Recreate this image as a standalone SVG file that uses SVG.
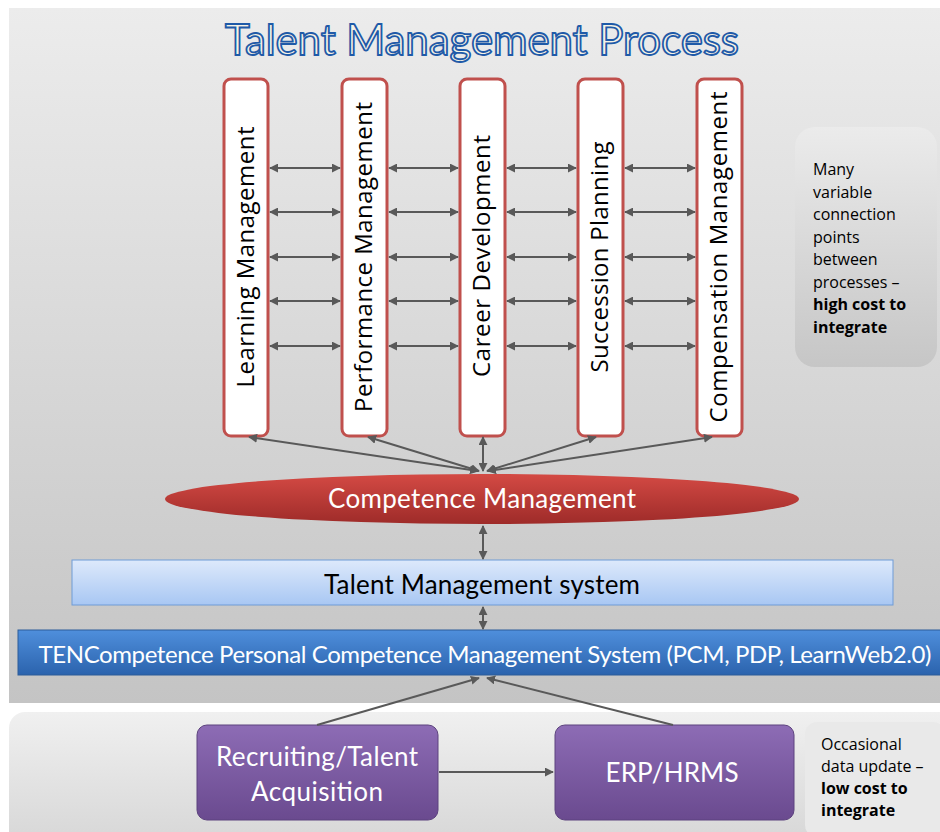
<svg xmlns="http://www.w3.org/2000/svg" width="940" height="832" viewBox="0 0 940 832">
<defs>
<linearGradient id="bgTop" x1="0" y1="0" x2="0" y2="1"><stop offset="0" stop-color="#ececec"/><stop offset="1" stop-color="#c4c4c4"/></linearGradient>
<linearGradient id="bgBot" x1="0" y1="0" x2="0" y2="1"><stop offset="0" stop-color="#f0f0f0"/><stop offset="1" stop-color="#d6d6d6"/></linearGradient>
<linearGradient id="note" x1="0" y1="0" x2="0" y2="1"><stop offset="0" stop-color="#ebebeb"/><stop offset="1" stop-color="#c6c6c6"/></linearGradient>
<linearGradient id="ell" x1="0" y1="0" x2="0" y2="1"><stop offset="0" stop-color="#d44a44"/><stop offset="1" stop-color="#9e2b29"/></linearGradient>
<linearGradient id="tms" x1="0" y1="0" x2="0" y2="1"><stop offset="0" stop-color="#dde9fb"/><stop offset="1" stop-color="#a8c7f3"/></linearGradient>
<linearGradient id="ten" x1="0" y1="0" x2="0" y2="1"><stop offset="0" stop-color="#4f8fdc"/><stop offset="1" stop-color="#2b63ad"/></linearGradient>
<linearGradient id="pur" x1="0" y1="0" x2="0" y2="1"><stop offset="0" stop-color="#8d6cb5"/><stop offset="1" stop-color="#6a4a8f"/></linearGradient>
<marker id="ah" viewBox="0 0 10 10" refX="9" refY="5" markerWidth="4.5" markerHeight="4.5" orient="auto-start-reverse" markerUnits="strokeWidth"><path d="M0,0 L10,5 L0,10 z" fill="#595959"/></marker>
<style>
.proc rect{fill:#ffffff;stroke:#c0504d;stroke-width:3}
.vlab{font-family:"Open Sans",sans-serif;font-size:24px;fill:#000}
.con line{stroke:#595959;stroke-width:2}
.dbl{marker-start:url(#ah);marker-end:url(#ah)}
.one{marker-end:url(#ah)}
.cal{font-family:Lato,"Open Sans",sans-serif}
.note{font-family:"Open Sans",sans-serif;font-size:16px;fill:#000}
</style>
</defs>
<rect x="0" y="0" width="940" height="832" fill="#ffffff"/>
<rect x="9" y="8" width="940" height="695" fill="url(#bgTop)"/>
<rect x="9" y="712" width="950" height="135" rx="16" fill="url(#bgBot)"/>

<text x="482" y="55" text-anchor="middle" class="cal" font-size="42" fill="#f5f3e6" stroke="#1f5aa8" stroke-width="1.8" textLength="514">Talent Management Process</text>

<g id="learning" class="proc"><rect x="224" y="79" width="44" height="357" rx="7"/><text class="vlab" transform="translate(254,257) rotate(-90)" text-anchor="middle" textLength="261">Learning Management</text></g>
<g id="performance" class="proc"><rect x="342" y="79" width="45" height="357" rx="7"/><text class="vlab" transform="translate(372,257) rotate(-90)" text-anchor="middle" textLength="310">Performance Management</text></g>
<g id="career" class="proc"><rect x="460" y="79" width="45" height="357" rx="7"/><text class="vlab" transform="translate(490,256) rotate(-90)" text-anchor="middle" textLength="242">Career Development</text></g>
<g id="succession" class="proc"><rect x="578" y="79" width="45" height="357" rx="7"/><text class="vlab" transform="translate(608,257) rotate(-90)" text-anchor="middle" textLength="231">Succession Planning</text></g>
<g id="compensation" class="proc"><rect x="697" y="79" width="45" height="357" rx="7"/><text class="vlab" transform="translate(727,257) rotate(-90)" text-anchor="middle" textLength="331">Compensation Management</text></g>

<g id="note-high">
<rect x="795" y="127" width="142" height="240" rx="20" fill="url(#note)"/>
<text class="note"><tspan x="813" y="175">Many</tspan><tspan x="813" y="197.5">variable</tspan><tspan x="813" y="220">connection</tspan><tspan x="813" y="242.5">points</tspan><tspan x="813" y="265">between</tspan><tspan x="813" y="287.5">processes –</tspan><tspan x="813" y="310" font-weight="bold">high cost to</tspan><tspan x="813" y="332.5" font-weight="bold">integrate</tspan></text>
</g>

<g id="competence">
<ellipse cx="482" cy="499" rx="317" ry="25" fill="url(#ell)"/>
<text x="482" y="508" text-anchor="middle" class="cal" font-size="26" fill="#ffffff" textLength="308">Competence Management</text>
</g>

<g id="tms-box">
<rect x="72" y="560" width="821" height="45" fill="url(#tms)" stroke="#6f9bd6" stroke-width="1"/>
<text x="482" y="594" text-anchor="middle" class="cal" font-size="26" fill="#000" textLength="316">Talent Management system</text>
</g>

<g id="ten-box">
<rect x="18" y="630" width="930" height="45" fill="url(#ten)" stroke="#2d5c99" stroke-width="1"/>
<text x="485" y="663" text-anchor="middle" class="cal" font-size="24" fill="#ffffff" textLength="893">TENCompetence Personal Competence Management System (PCM, PDP, LearnWeb2.0)</text>
</g>

<g id="recruiting">
<rect x="197" y="725" width="241" height="95" rx="10" fill="url(#pur)" stroke="#5d437e" stroke-width="1"/>
<text text-anchor="middle" class="cal" font-size="26" fill="#ffffff"><tspan x="317" y="766" textLength="202">Recruiting/Talent</tspan><tspan x="317" y="801" textLength="132">Acquisition</tspan></text>
</g>

<g id="erp">
<rect x="555" y="725" width="239" height="95" rx="10" fill="url(#pur)" stroke="#5d437e" stroke-width="1"/>
<text x="672" y="782" text-anchor="middle" class="cal" font-size="26" fill="#ffffff" textLength="133">ERP/HRMS</text>
</g>

<g id="note-low">
<rect x="805" y="722" width="140" height="115" rx="12" fill="#e9e9e9"/>
<text class="note"><tspan x="821" y="750">Occasional</tspan><tspan x="821" y="772">data update –</tspan><tspan x="821" y="794" font-weight="bold">low cost to</tspan><tspan x="821" y="816" font-weight="bold">integrate</tspan></text>
</g>

<g id="connectors" class="con">
<line class="dbl" x1="270" y1="168" x2="340" y2="168"/><line class="dbl" x1="389" y1="168" x2="458" y2="168"/><line class="dbl" x1="507" y1="168" x2="576" y2="168"/><line class="dbl" x1="625" y1="168" x2="695" y2="168"/>
<line class="dbl" x1="270" y1="212" x2="340" y2="212"/><line class="dbl" x1="389" y1="212" x2="458" y2="212"/><line class="dbl" x1="507" y1="212" x2="576" y2="212"/><line class="dbl" x1="625" y1="212" x2="695" y2="212"/>
<line class="dbl" x1="270" y1="257" x2="340" y2="257"/><line class="dbl" x1="389" y1="257" x2="458" y2="257"/><line class="dbl" x1="507" y1="257" x2="576" y2="257"/><line class="dbl" x1="625" y1="257" x2="695" y2="257"/>
<line class="dbl" x1="270" y1="301" x2="340" y2="301"/><line class="dbl" x1="389" y1="301" x2="458" y2="301"/><line class="dbl" x1="507" y1="301" x2="576" y2="301"/><line class="dbl" x1="625" y1="301" x2="695" y2="301"/>
<line class="dbl" x1="270" y1="346" x2="340" y2="346"/><line class="dbl" x1="389" y1="346" x2="458" y2="346"/><line class="dbl" x1="507" y1="346" x2="576" y2="346"/><line class="dbl" x1="625" y1="346" x2="695" y2="346"/>
<line class="dbl" x1="478" y1="471" x2="249" y2="437"/>
<line class="dbl" x1="479" y1="471" x2="368" y2="437"/>
<line class="dbl" x1="483" y1="471" x2="483" y2="437"/>
<line class="dbl" x1="487" y1="471" x2="596" y2="437"/>
<line class="dbl" x1="488" y1="471" x2="712" y2="437"/>
<line class="dbl" x1="483" y1="526" x2="483" y2="559"/>
<line class="dbl" x1="483" y1="607" x2="483" y2="629"/>
<line class="one" x1="317" y1="725" x2="479" y2="678"/>
<line class="one" x1="673" y1="725" x2="487" y2="678"/>
<line class="one" x1="439" y1="772" x2="553" y2="772"/>
</g>
</svg>
